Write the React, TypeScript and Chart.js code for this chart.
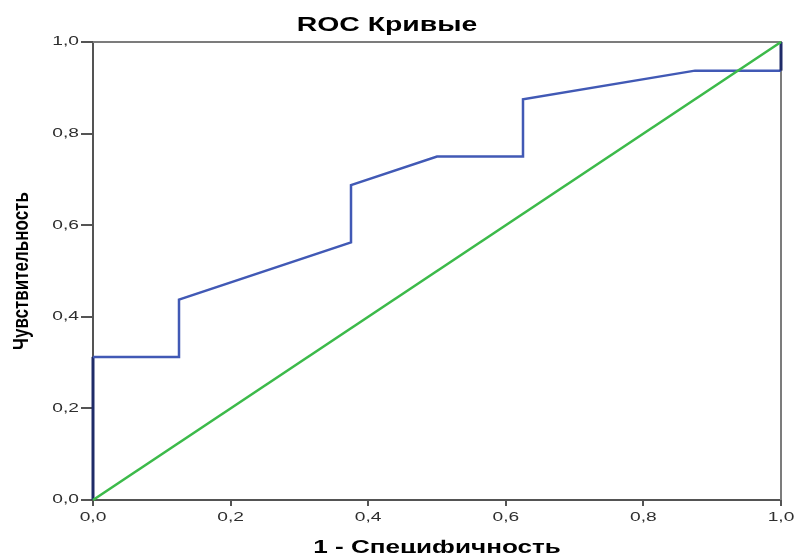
import React, { useEffect, useRef } from "react";
import { Chart, registerables } from "chart.js";

Chart.register(...registerables);

const chartTitle = "ROC Кривые";
const xAxisTitle = "1 - Специфичность";
const yAxisTitle = "Чувствительность";

// ROC curve (1 - specificity, sensitivity)
const rocFpr = [0, 0, 0.125, 0.125, 0.375, 0.375, 0.5, 0.625, 0.625, 0.875, 1, 1];
const rocTpr = [0, 0.3125, 0.3125, 0.4375, 0.5625, 0.6875, 0.75, 0.75, 0.875, 0.9375, 0.9375, 1];

// reference diagonal
const refX = [0, 1];
const refY = [0, 1];

const axisMin = 0;
const axisMax = 1;
const tickStep = 0.2;

const BLUE = "#4159b5";
const NAVY = "#1f2b68";
const GREEN = "#3cba4a";
const AXIS = "#545454";
const FRAME = "#7c7c7c";
const TICK_TEXT = "#2e2e2e";

const fmt = (v: number) => v.toFixed(1).replace(".", ",");

function drawStretched(
  ctx: CanvasRenderingContext2D,
  text: string,
  x: number,
  y: number,
  font: string,
  sx: number,
  align: CanvasTextAlign,
  baseline: CanvasTextBaseline,
  color: string,
  rotate = false
) {
  ctx.save();
  ctx.translate(x, y);
  ctx.scale(sx, 1);
  if (rotate) ctx.rotate(-Math.PI / 2);
  ctx.font = font;
  ctx.fillStyle = color;
  ctx.textAlign = align;
  ctx.textBaseline = baseline;
  ctx.fillText(text, 0, 0);
  ctx.restore();
}

const framePlugin = {
  id: "frame",
  beforeDatasetsDraw(chart: any) {
    const { ctx, chartArea } = chart;
    ctx.save();
    ctx.strokeStyle = FRAME;
    ctx.lineWidth = 2;
    ctx.beginPath();
    ctx.moveTo(chartArea.left, chartArea.top);
    ctx.lineTo(chartArea.right, chartArea.top);
    ctx.lineTo(chartArea.right, chartArea.bottom);
    ctx.stroke();
    ctx.restore();
  },
};

const textPlugin = {
  id: "stretchedText",
  afterDraw(chart: any) {
    const { ctx, chartArea, scales } = chart;
    const family = "'Liberation Sans', Arial, sans-serif";
    // title
    drawStretched(ctx, chartTitle, 387, 25, `bold 20px ${family}`, 1.42, "center", "middle", "#000");
    // x ticks
    const xs = scales.x;
    xs.ticks.forEach((t: any) => {
      const px = xs.getPixelForValue(t.value);
      drawStretched(ctx, fmt(t.value), px, chartArea.bottom + 18, `12px ${family}`, 1.6, "center", "middle", TICK_TEXT);
    });
    // y ticks
    const ys = scales.y;
    ys.ticks.forEach((t: any) => {
      const py = ys.getPixelForValue(t.value);
      drawStretched(ctx, fmt(t.value), chartArea.left - 14, py, `12px ${family}`, 1.6, "right", "middle", TICK_TEXT);
    });
    // axis titles
    drawStretched(ctx, xAxisTitle, (chartArea.left + chartArea.right) / 2, 553, `bold 18px ${family}`, 1.45, "center", "alphabetic", "#000");
    drawStretched(ctx, yAxisTitle, 22, (chartArea.top + chartArea.bottom) / 2, `bold 17px ${family}`, 1.35, "center", "middle", "#000", true);
  },
};

const isEdge = (c: any) =>
  (c.p0.parsed.x === 0 && c.p1.parsed.x === 0) ||
  (c.p0.parsed.x === 1 && c.p1.parsed.x === 1);

export default function App() {
  const canvasRef = useRef<HTMLCanvasElement | null>(null);

  useEffect(() => {
    document.body.style.margin = "0";
    const canvas = canvasRef.current;
    if (!canvas) return;
    const chart = new Chart(canvas, {
      type: "scatter",
      data: {
        datasets: [
          {
            label: "Опорная линия",
            data: refX.map((x, i) => ({ x, y: refY[i] })),
            showLine: true,
            borderColor: GREEN,
            borderWidth: 2.6,
            pointRadius: 0,
            clip: false as any,
            order: 0,
          },
          {
            label: "ROC",
            data: rocFpr.map((x, i) => ({ x, y: rocTpr[i] })),
            showLine: true,
            borderColor: BLUE,
            borderWidth: 2.5,
            pointRadius: 0,
            clip: false as any,
            order: 1,
            segment: {
              borderColor: (c: any) => (isEdge(c) ? NAVY : BLUE),
              borderWidth: (c: any) => (isEdge(c) ? 3 : 2.5),
            },
          },
        ],
      },
      options: {
        animation: false,
        responsive: false,
        maintainAspectRatio: false,
        layout: { padding: { left: 0, top: 42, right: 14, bottom: 0 } },
        plugins: {
          legend: { display: false },
          tooltip: { enabled: false },
          title: { display: false },
        },
        scales: {
          x: {
            type: "linear",
            min: axisMin,
            max: axisMax,
            ticks: { stepSize: tickStep, display: false },
            grid: { drawOnChartArea: false, drawTicks: true, tickLength: 6, color: AXIS, lineWidth: 2 },
            border: { display: true, color: AXIS, width: 2 },
            afterFit: (s: any) => {
              s.height = 53;
            },
          },
          y: {
            type: "linear",
            min: axisMin,
            max: axisMax,
            ticks: { stepSize: tickStep, display: false },
            grid: { drawOnChartArea: false, drawTicks: true, tickLength: 12, color: AXIS, lineWidth: 2 },
            border: { display: true, color: AXIS, width: 2 },
            afterFit: (s: any) => {
              s.width = 93;
            },
          },
        },
      },
      plugins: [framePlugin, textPlugin],
    });
    return () => chart.destroy();
  }, []);

  return (
    <div style={{ width: 795, height: 553 }}>
      <canvas ref={canvasRef} width={795} height={553} />
    </div>
  );
}
